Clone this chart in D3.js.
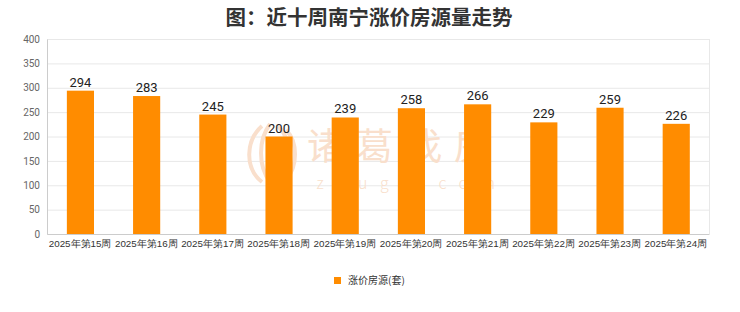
<!DOCTYPE html>
<html>
<head>
<meta charset="utf-8">
<script src="https://cdn.jsdelivr.net/npm/d3@7"></script>
<style>
  body { margin: 0; background: #fff; }
  svg { display: block; font-family: "Noto Sans CJK SC", "Noto Sans", sans-serif; }
</style>
</head>
<body>
<svg width="740" height="312"></svg>
<script>
const weeks = ["2025年第15周", "2025年第16周", "2025年第17周", "2025年第18周", "2025年第19周",
               "2025年第20周", "2025年第21周", "2025年第22周", "2025年第23周", "2025年第24周"];
const rising = [294, 283, 245, 200, 239, 258, 266, 229, 259, 226];
const yTicks = [0, 50, 100, 150, 200, 250, 300, 350, 400];

const svg = d3.select("svg");
const plotL = 47, plotR = 709, plotT = 39, plotB = 234;

const x = d3.scaleBand().domain(weeks).range([plotL, plotR]);
const y = d3.scaleLinear().domain([0, 400]).range([plotB, plotT]);

// title
svg.append("text")
    .attr("x", 369).attr("y", 25)
    .attr("text-anchor", "middle")
    .attr("font-size", 20.5).attr("font-weight", "bold")
    .attr("fill", "#333")
    .text("图：近十周南宁涨价房源量走势");

// grid
svg.append("g").selectAll("line")
  .data(yTicks)
  .join("line")
    .attr("x1", plotL).attr("x2", plotR)
    .attr("y1", d => y(d) + 0.5).attr("y2", d => y(d) + 0.5)
    .attr("stroke", "#e8e8e8");

svg.append("line")
    .attr("x1", plotR + 0.5).attr("x2", plotR + 0.5)
    .attr("y1", plotT).attr("y2", plotB)
    .attr("stroke", "#e8e8e8");

// watermark, behind the bars
const wm = svg.append("g").attr("fill", "none").attr("stroke", "#f9dfcc").attr("stroke-width", 4);
wm.append("path").attr("d", "M262,126 C246,140 244,168 262,182");
wm.append("path").attr("d", "M270,124 C258,140 258,166 270,182");
wm.append("path").attr("d", "M278,126 C292,140 294,166 278,182");
wm.append("path").attr("d", "M286,130 C298,142 298,166 286,180");
const wt = svg.append("g").attr("fill", "#f9dfcc");
wt.append("text").attr("x", 405).attr("y", 160).attr("text-anchor", "middle")
    .attr("font-size", 37).attr("letter-spacing", 12).text("诸葛找房");
wt.append("text").attr("x", 412).attr("y", 189).attr("text-anchor", "middle")
    .attr("font-size", 16).attr("font-weight", 300).attr("letter-spacing", 12.5).text("zhuge.com");

// y axis
svg.append("g")
    .attr("transform", `translate(${plotL},0)`)
    .call(d3.axisLeft(y).tickValues(yTicks).tickSize(0).tickPadding(7))
    .call(g => g.select(".domain").attr("stroke", "#ccc"))
    .call(g => g.selectAll("text").attr("fill", "#666").attr("font-size", 10)
      .attr("font-family", "Roboto, sans-serif"));

// bars
svg.append("g").selectAll("rect")
  .data(rising)
  .join("rect")
    .attr("x", (d, i) => x(weeks[i]) + x.bandwidth() * 0.3)
    .attr("width", x.bandwidth() * 0.41)
    .attr("y", d => y(d))
    .attr("height", d => plotB - y(d))
    .attr("fill", "#ff8c00");

svg.append("g").selectAll("text")
  .data(rising)
  .join("text")
    .attr("x", (d, i) => x(weeks[i]) + x.bandwidth() * 0.505)
    .attr("y", d => y(d) - 4)
    .attr("text-anchor", "middle")
    .attr("font-size", 13)
    .attr("font-family", "Roboto, sans-serif")
    .attr("fill", "#222")
    .text(d => d);

// x axis
svg.append("g")
    .attr("transform", `translate(0,${plotB})`)
    .call(d3.axisBottom(x).tickSize(0).tickPadding(6))
    .call(g => g.select(".domain").attr("stroke", "#ccc"))
    .call(g => g.selectAll("text").attr("fill", "#333").attr("font-size", 9.8));

// legend
svg.append("rect").attr("x", 334).attr("y", 277).attr("width", 7).attr("height", 7).attr("fill", "#ff8c00");
svg.append("text").attr("x", 348).attr("y", 284).attr("font-size", 10).attr("fill", "#333").text("涨价房源(套)");
</script>
</body>
</html>
